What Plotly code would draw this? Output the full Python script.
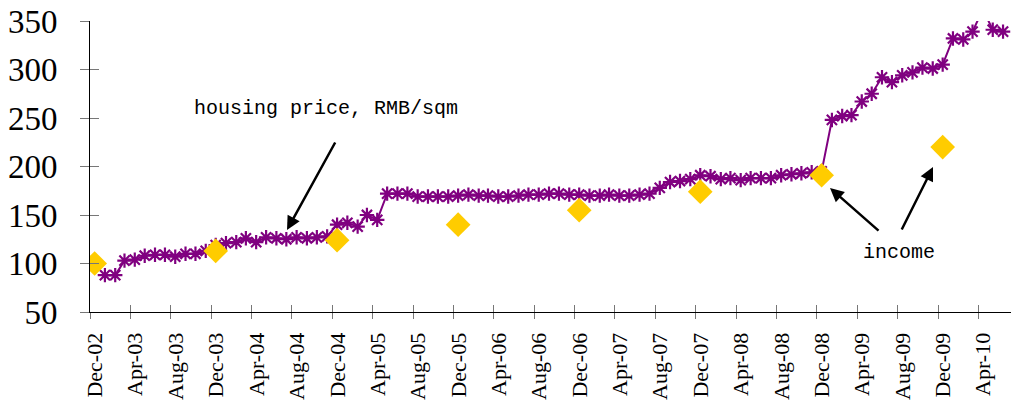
import pandas as pd
import plotly.graph_objects as go

# Housing price, RMB/sqm (monthly, Jan-03 .. Jun-10)
price_values = [
    88, 88, 103, 104, 108, 109, 109, 107, 110, 110, 113, 119,   # 2003
    121, 122, 126, 122, 127, 126, 125, 127, 126, 127, 128, 140,  # 2004
    142, 138, 150, 145, 172, 172, 172, 169, 169, 169, 169, 170,  # 2005
    171, 170, 170, 169, 169, 170, 171, 171, 172, 172, 171, 171,  # 2006
    170, 170, 171, 170, 170, 171, 172, 178, 184, 185, 187, 191,  # 2007
    190, 187, 188, 186, 188, 188, 188, 191, 192, 193, 194, 195,  # 2008
    248, 252, 253, 267, 275, 292, 287, 294, 297, 302, 301, 305,  # 2009
    332, 331, 339, 362, 341, 339,                                # 2010
]
price_start = "2003-01-01"

# Income (yearly, December)
income_years = [2002, 2003, 2004, 2005, 2006, 2007, 2008, 2009]
income_values = [100, 113, 124, 140, 155, 174, 191, 220]

y_ticks = [50, 100, 150, 200, 250, 300, 350]

price_dates = pd.date_range(price_start, periods=len(price_values), freq="MS") + pd.Timedelta(days=14)
income_dates = [pd.Timestamp(year=y, month=12, day=15) for y in income_years]

PURPLE = "#800080"
GOLD = "#FFCC00"
x_range = ["2002-12-01", "2010-07-09"]
y_range = [50, 350]

fig = go.Figure()
fig.add_trace(go.Scatter(
    x=price_dates, y=price_values, mode="lines+markers",
    line=dict(color=PURPLE, width=2),
    marker=dict(symbol="asterisk-open", size=12, color=PURPLE,
                line=dict(width=2.2, color=PURPLE)),
    name="housing price", showlegend=False,
))
fig.add_trace(go.Scatter(
    x=income_dates, y=income_values, mode="markers",
    marker=dict(symbol="diamond", size=19, color=GOLD, line=dict(width=0)),
    name="income", showlegend=False, xaxis="x2", yaxis="y2",
))

tick_font_y = dict(family="Liberation Serif", size=33, color="black")
tick_font_x = dict(family="Liberation Serif", size=22, color="black")

fig.update_layout(
    width=1011, height=403,
    margin=dict(l=90, r=0, t=21, b=91, autoexpand=False),
    paper_bgcolor="white", plot_bgcolor="white",
    xaxis=dict(
        type="date", range=x_range, tick0="2002-12-01", dtick="M4",
        tickformat="%b-%y", tickangle=-90, tickfont=tick_font_x,
        showgrid=False, zeroline=False, showline=True, linecolor="black", linewidth=1,
        ticks="outside", ticklen=6, tickcolor="#777", tickwidth=1,
        ticklabelstandoff=5, ticklabelshift=5, automargin=False,
    ),
    yaxis=dict(
        range=y_range, tickvals=y_ticks, tickfont=tick_font_y,
        showgrid=False, zeroline=False, showline=True, linecolor="black", linewidth=1,
        ticks="outside", ticklen=9, tickcolor="#777", tickwidth=1,
        ticklabelstandoff=16, automargin=False,
    ),
    xaxis2=dict(
        type="date", range=x_range, tick0="2002-12-01", dtick="M4",
        overlaying="x", anchor="y2", showticklabels=False, showgrid=False,
        zeroline=False, showline=False, ticks="inside", ticklen=7,
        tickcolor="#777", tickwidth=1, automargin=False,
    ),
    yaxis2=dict(
        range=y_range, tickvals=y_ticks, overlaying="y", anchor="x2",
        showticklabels=False, showgrid=False, zeroline=False, showline=False,
        ticks="inside", ticklen=9, tickcolor="#777", tickwidth=1, automargin=False,
    ),
)

ann_font = dict(family="Liberation Mono", size=20, color="black")
fig.add_annotation(text="housing price, RMB/sqm", xref="paper", yref="paper",
                   x=0.2562, y=0.701, showarrow=False, font=ann_font,
                   xanchor="center", yanchor="middle")
fig.add_annotation(text="income", xref="paper", yref="paper",
                   x=0.8784, y=0.2045, showarrow=False, font=ann_font,
                   xanchor="center", yanchor="middle")

arrow_style = dict(showarrow=True, arrowhead=2, arrowsize=1.1, arrowwidth=2.5,
                   arrowcolor="black", standoff=0, text="", xref="paper", yref="paper")
fig.add_annotation(x=0.2139, y=0.2818, ax=49, ay=-89, **arrow_style)
fig.add_annotation(x=0.8035, y=0.4261, ax=50, ay=44, **arrow_style)
fig.add_annotation(x=0.9153, y=0.4983, ax=-32, ay=64, **arrow_style)

fig.write_html(
    "out.html",
    config={"displayModeBar": False},
    post_script="document.body.style.margin='0';document.body.style.overflow='hidden';",
)
